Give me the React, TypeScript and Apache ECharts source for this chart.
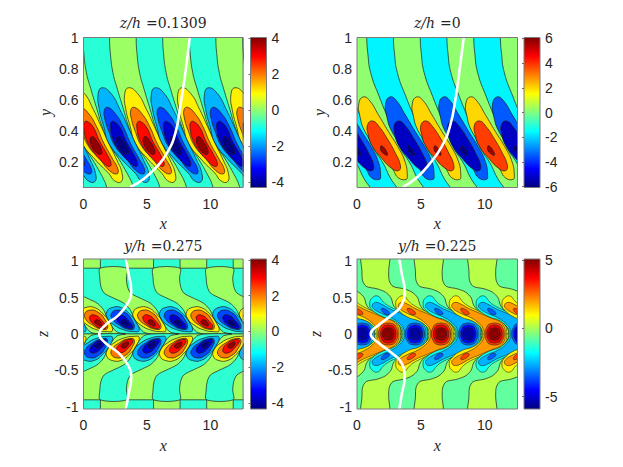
import React, { useEffect, useRef } from "react";
import * as echarts from "echarts";

type Pt = [number, number];
type Layer = { pts: Pt[]; value: number; smooth?: number; thin?: boolean };

// colour limits of each panel
const climA = [-4.3, 4.05];
const climB = [-6.08, 6.08];
const climC = [-4.35, 4.05];
const climD = [-5.9, 5.07];

const xTicks = [0, 5, 10];
const yTicks = [0.2, 0.4, 0.6, 0.8, 1];
const zTicks = [-1, -0.5, 0, 0.5, 1];
const barTicksA = [-4, -2, 0, 2, 4];
const barTicksB = [-6, -4, -2, 0, 2, 4, 6];
const barTicksD = [-5, 0, 5];

const titles = [["z/h", "=0.1309"], ["z/h", "=0"], ["y/h", "=0.275"], ["y/h", "=0.225"]];

// ---- panel A (z/h = 0.1309)
const aLevels = { green: 0.11, cyan: -0.83, pos: [1.05, 2, 2.94, 3.88], neg: [-1.78, -2.72, -3.67, -4.4] };
const aBoundary: Pt[] = [[2.03, 1.2], [2.05, 1], [2.11, 0.903], [2.32, 0.773], [2.68, 0.665], [3.16, 0.535], [3.55, 0.427], [4.08, 0.319], [4.92, 0.211], [5.53, 0.124], [5.87, 0.07], [6.05, 0.031], [6.5, -0.03]];
const aStripeOffsets = [-6.28, -2.09, 2.1, 6.29, 10.48];
const aRedCentres = [0.94, 5.13, 9.32, 13.51];
const aBlueCentres = [-1.15, 3.04, 7.23, 11.42];
const aLobe: Pt[][] = [
  [[-1.58, 0.676], [-0.87, 0.639], [-0.16, 0.535], [0.45, 0.427], [1.05, 0.319], [1.68, 0.211], [2.1, 0.124], [2.03, 0.07], [1.5, 0.077], [1.05, 0.124], [0, 0.211], [-1.05, 0.319], [-1.45, 0.427], [-1.79, 0.535], [-1.89, 0.632]],
  [[-1.13, 0.55], [-0.53, 0.509], [0.08, 0.427], [0.66, 0.319], [1.32, 0.222], [1.79, 0.146], [1.66, 0.12], [1.05, 0.146], [0.39, 0.211], [-0.53, 0.297], [-1.05, 0.395], [-1.37, 0.481], [-1.39, 0.535]],
  [[-0.66, 0.459], [-0.18, 0.423], [0.34, 0.33], [0.87, 0.254], [1.24, 0.185], [1.05, 0.168], [0.53, 0.2], [-0.18, 0.265], [-0.71, 0.341], [-0.92, 0.416], [-0.87, 0.453]],
  [[-0.26, 0.362], [0.13, 0.33], [0.47, 0.276], [0.45, 0.248], [0.13, 0.254], [-0.26, 0.293], [-0.42, 0.341]],
];
const aCurve: Pt[] = [[3.68, 0.035], [4.74, 0.088], [5.79, 0.168], [6.58, 0.254], [7.24, 0.384], [7.63, 0.557], [8.03, 0.773], [8.37, 1]];

// ---- panel B (z/h = 0)
const bLevels = { green: 0.18, cyan: -1.64, pos: [2, 3.83, 5.65], neg: [-3.47, -5.29, -6.08] };
const bBoundary: Pt[] = [[0.74, 1.2], [0.76, 1], [0.84, 0.903], [1.07, 0.773], [1.75, 0.617], [2.53, 0.459], [3.32, 0.297], [4.15, 0.189], [4.73, 0.092], [5.25, 0.031], [5.9, -0.04]];
const bStripeOffsets = [-4.19, 0, 4.19, 8.38];
const bRedCentres = [-2, 2.19, 6.38, 10.57, 14.76];
const bBlueCentres = [0.1, 4.29, 8.48, 12.67];
const bLobe: Pt[][] = [
  [[-1.7, 0.617], [-1.23, 0.596], [-0.52, 0.503], [0.26, 0.395], [1.0, 0.297], [1.57, 0.2], [1.75, 0.114], [1.65, 0.085], [1.04, 0.096], [0.65, 0.146], [-0.13, 0.243], [-0.91, 0.32], [-1.57, 0.395], [-1.96, 0.492], [-2.04, 0.578]],
  [[-0.97, 0.462], [-0.47, 0.427], [0.23, 0.341], [0.75, 0.265], [1.2, 0.178], [1.08, 0.142], [0.52, 0.157], [-0.26, 0.222], [-0.97, 0.297], [-1.31, 0.373], [-1.36, 0.438]],
  [[-0.26, 0.302], [0.13, 0.265], [0.18, 0.241], [-0.08, 0.25], [-0.34, 0.276]],
];
const bCurve: Pt[] = [[3.58, 0.035], [4.67, 0.096], [5.72, 0.189], [6.63, 0.297], [7.28, 0.427], [7.75, 0.622], [8.07, 0.816], [8.36, 1]];

// ---- panel C (y/h = 0.275)
const cLevels = { green: 0.11, cyan: -0.83, pos: [1.05, 2, 2.94, 3.88], neg: [-1.78, -2.72, -3.67, -4.4] };
const cBoundary: Pt[] = [[1.32, 0.904], [1.29, 0.767], [1.37, 0.653], [1.63, 0.562], [2.37, 0.493], [3.16, 0.425], [3.68, 0.333], [3.95, 0.228], [4.34, 0.105], [4.74, 0.027], [5.39, 0]];
const cFlowOffsets = [-4.19, 0, 4.19, 8.38];
const cTileStarts = [-0.77, 3.42, 7.61, 11.8];
const cRedCentres = [1.05, 5.25, 9.45, 13.65];
const cBlueCentres = [-1.05, 3.15, 7.35, 11.55];
const cLobe: Pt[][] = [
  [[-1.32, 0.306], [-0.87, 0.365], [-0.16, 0.361], [0.45, 0.283], [0.97, 0.169], [1.24, 0.046], [0.84, 0.032], [0.05, 0.055], [-0.74, 0.123], [-1.26, 0.215]],
  [[-0.95, 0.283], [-0.47, 0.329], [0.11, 0.297], [0.58, 0.215], [0.84, 0.078], [0.32, 0.068], [-0.34, 0.123], [-0.87, 0.201]],
  [[-0.53, 0.247], [-0.16, 0.26], [0.37, 0.192], [0.74, 0.087], [0.26, 0.082], [-0.26, 0.137], [-0.53, 0.192]],
  [[-0.16, 0.183], [0.11, 0.192], [0.37, 0.146], [0.37, 0.11], [0.05, 0.128], [-0.16, 0.155]],
];
const cCurve: Pt[] = [[3.34, 1.03], [3.55, 0.83], [3.76, 0.6], [3.55, 0.44], [2.76, 0.26], [1.71, 0.12], [1.24, 0], [1.71, -0.12], [2.76, -0.26], [3.55, -0.44], [3.76, -0.6], [3.55, -0.83], [3.34, -1.03]];

// ---- panel D (y/h = 0.225)
const dLevels = { base: -0.74, flow: 0.19, pos: [1.12, 2.05, 2.99, 3.92, 4.85], neg: [-1.68, -2.61, -3.54, -4.47, -5.41] };
const dBoundary: Pt[] = [[0.39, 1.15], [0.39, 0.854], [0.44, 0.731], [0.73, 0.653], [1.57, 0.621], [2.22, 0.575], [2.66, 0.498], [2.85, 0.397], [3.24, 0.315], [4.1, 0.224], [4.83, 0.183], [5.33, 0.123], [5.56, 0.055], [5.56, 0]];
const dFlowOffsets = [-4.19, 0, 4.19, 8.38];
const dRedCentres = [2.45, 6.58, 10.77, 14.9];
const dBlueCentres = [-3.75, 0.41, 4.54, 8.72, 12.87, 17];
const dChevronOuter: Pt[] = [[-0.95, 0], [-0.97, 0.055], [-1.25, 0.123], [-1.78, 0.183], [-2.56, 0.228], [-3.34, 0.329], [-3.55, 0.411], [-3.34, 0.498], [-2.9, 0.521], [-2.56, 0.457], [-2.17, 0.397], [-1.25, 0.315], [-0.34, 0.228], [0.31, 0.192], [0.8, 0.123], [0.95, 0.055], [0.95, 0]];
const dChevronInner: Pt[] = [[-0.84, 0], [-0.86, 0.06], [-1.17, 0.137], [-1.85, 0.224], [-2.64, 0.283], [-3.26, 0.352], [-3.34, 0.402], [-3.08, 0.434], [-2.64, 0.411], [-2.04, 0.352], [-1.12, 0.283], [-0.21, 0.215], [0.44, 0.169], [0.72, 0.11], [0.84, 0.05], [0.84, 0]];
const dSpot: Pt[] = [[-2.64, 0.347], [-2.3, 0.338], [-1.98, 0.283], [-2.17, 0.265], [-2.48, 0.292]];
const dRings: Pt[][] = [
  [[-0.75, 0], [-0.62, 0.09], [-0.35, 0.14], [0.35, 0.14], [0.62, 0.09], [0.75, 0]],
  [[-0.6, 0], [-0.5, 0.075], [-0.28, 0.115], [0.28, 0.115], [0.5, 0.075], [0.6, 0]],
  [[-0.44, 0], [-0.36, 0.06], [-0.18, 0.08], [0.18, 0.08], [0.36, 0.06], [0.44, 0]],
  [[-0.24, 0], [-0.15, 0.035], [0, 0.048], [0.15, 0.035], [0.24, 0]],
];
const dCurve: Pt[] = [[3.32, 1.03], [3.5, 0.83], [3.73, 0.6], [3.5, 0.4], [2.72, 0.26], [1.67, 0.12], [1.07, 0], [1.67, -0.12], [2.72, -0.26], [3.5, -0.4], [3.73, -0.6], [3.5, -0.83], [3.32, -1.03]];

const xMax = 12.57;
const yMin = 0.033;
const zLim = 1.03;

const jetStops: [number, string][] = [[0, "#00007f"], [0.125, "#0000ff"], [0.375, "#00ffff"], [0.625, "#ffff00"], [0.875, "#ff0000"], [1, "#7f0000"]];

function jet(t0: number) {
  const t = Math.max(0, Math.min(1, t0));
  const c = (v: number) => Math.round(255 * Math.max(0, Math.min(1, v)));
  const r = t < 0.375 ? 0 : t < 0.625 ? (t - 0.375) * 4 : t < 0.875 ? 1 : 1 - (t - 0.875) * 2 * 2;
  const g = t < 0.125 ? 0 : t < 0.375 ? (t - 0.125) * 4 : t < 0.625 ? 1 : t < 0.875 ? 1 - (t - 0.625) * 4 : 0;
  const b = t < 0.125 ? 0.5 + t * 4 : t < 0.375 ? 1 : t < 0.625 ? 1 - (t - 0.375) * 4 : 0;
  return `rgb(${c(r)},${c(g)},${c(b)})`;
}

const shift = (p: Pt[], dx: number): Pt[] => p.map(([x, y]) => [x + dx, y] as Pt);
const mirror = (p: Pt[]): Pt[] => p.map(([x, y]) => [x, -y] as Pt);
const band = (b: Pt[], off: number, w: number): Pt[] => [...shift(b, off), ...shift(b, off + w).reverse()];
const wide: Pt[] = [[-2, -3], [16, -3], [16, 3], [-2, 3]];
const chevron = (u: Pt[]): Pt[] => [...u, ...mirror(u).reverse().slice(1, -1)];

function layersA(): Layer[] {
  const out: Layer[] = [{ pts: wide, value: aLevels.green, smooth: 0 }];
  aStripeOffsets.forEach((o) => out.push({ pts: band(aBoundary, o, 2.09), value: aLevels.cyan }));
  aRedCentres.forEach((c) => aLobe.forEach((l, i) => out.push({ pts: shift(l, c), value: aLevels.pos[i] })));
  aBlueCentres.forEach((c) => aLobe.forEach((l, i) => out.push({ pts: shift(l, c), value: aLevels.neg[i] })));
  return out;
}
function layersB(): Layer[] {
  const out: Layer[] = [{ pts: wide, value: bLevels.green, smooth: 0 }];
  bStripeOffsets.forEach((o) => out.push({ pts: band(bBoundary, o, 2.09), value: bLevels.cyan }));
  bRedCentres.forEach((c) => bLobe.forEach((l, i) => out.push({ pts: shift(l, c), value: bLevels.pos[i] })));
  bBlueCentres.forEach((c) => bLobe.forEach((l, i) => out.push({ pts: shift(l, c), value: bLevels.neg[i] })));
  return out;
}
function layersC(): Layer[] {
  const out: Layer[] = [{ pts: [[-2, 0], [16, 0], [16, 3], [-2, 3]], value: cLevels.cyan, smooth: 0 }];
  const tile = (s: number): Pt[] => [[s, 1.3], [s + 2.1, 1.3], [s + 2.1, 0.904], [s, 0.904]];
  cFlowOffsets.forEach((o) => out.push({ pts: band(cBoundary, o, 2.09), value: cLevels.green, smooth: 0.3 }));
  cTileStarts.forEach((s) => out.push({ pts: tile(s), value: cLevels.green, smooth: 0 }));
  out.push({ pts: [[-2, 0], [16, 0], [16, -3], [-2, -3]], value: cLevels.green, smooth: 0, thin: true });
  cFlowOffsets.forEach((o) => out.push({ pts: mirror(band(cBoundary, o, 2.09)), value: cLevels.cyan, smooth: 0.3 }));
  cTileStarts.forEach((s) => out.push({ pts: mirror(tile(s)), value: cLevels.cyan, smooth: 0 }));
  cRedCentres.forEach((c) => cLobe.forEach((l, i) => {
    out.push({ pts: shift(l, c), value: cLevels.pos[i] });
    out.push({ pts: mirror(shift(l, c)), value: cLevels.neg[i] });
  }));
  cBlueCentres.forEach((c) => cLobe.forEach((l, i) => {
    out.push({ pts: shift(l, c), value: cLevels.neg[i] });
    out.push({ pts: mirror(shift(l, c)), value: cLevels.pos[i] });
  }));
  return out;
}
function layersD(): Layer[] {
  const out: Layer[] = [{ pts: wide, value: dLevels.base, smooth: 0 }];
  dFlowOffsets.forEach((o) => {
    const b = band(dBoundary, o, 2.09);
    out.push({ pts: b, value: dLevels.flow, smooth: 0.3 });
    out.push({ pts: mirror(b), value: dLevels.flow, smooth: 0.3 });
  });
  const family = (c: number, lv: number[]) => {
    out.push({ pts: shift(chevron(dChevronOuter), c), value: lv[0], thin: true });
    out.push({ pts: shift(chevron(dChevronInner), c), value: lv[1], thin: true });
    out.push({ pts: shift(dSpot, c), value: lv[2], thin: true });
    out.push({ pts: mirror(shift(dSpot, c)), value: lv[2], thin: true });
    out.push({ pts: shift(chevron(dRings[0]), c), value: lv[2], thin: true });
    out.push({ pts: shift(chevron(dRings[1]), c), value: lv[3], thin: true });
    out.push({ pts: shift(chevron(dRings[2]), c), value: lv[4], thin: true });
    out.push({ pts: shift(chevron(dRings[3]), c), value: lv[4], thin: true });
  };
  dBlueCentres.forEach((c) => family(c, dLevels.neg));
  dRedCentres.forEach((c) => family(c, dLevels.pos));
  return out;
}

const labelFont = "'Liberation Sans', Arial, sans-serif";
const mathFont = "'Liberation Serif', serif";
const titleFont = "'DejaVu Serif', serif";
const ink = "#262626";
const box = "#7a7a7a";

const panels = [
  { left: 83.5, top: 37.5, width: 159.5, clim: climA, layers: layersA, curve: aCurve, yMin, yMax: 1, yTicks, yName: "y", yGap: 30, barTicks: barTicksA, barLeft: 250.5, title: titles[0], titleTop: 14 },
  { left: 357, top: 37.5, width: 160.5, clim: climB, layers: layersB, curve: bCurve, yMin, yMax: 1, yTicks, yName: "y", yGap: 30, barTicks: barTicksB, barLeft: 524, title: titles[1], titleTop: 14 },
  { left: 83.5, top: 259, width: 159.5, clim: climC, layers: layersC, curve: cCurve, yMin: -zLim, yMax: zLim, yTicks: zTicks, yName: "z", yGap: 27, barTicks: barTicksA, barLeft: 250.5, title: titles[2], titleTop: 237 },
  { left: 357, top: 259, width: 160.5, clim: climD, layers: layersD, curve: dCurve, yMin: -zLim, yMax: zLim, yTicks: zTicks, yName: "z", yGap: 27, barTicks: barTicksD, barLeft: 524, title: titles[3], titleTop: 237 },
];

function buildOption() {
  const grid: any[] = [];
  const xAxis: any[] = [];
  const yAxis: any[] = [];
  const series: any[] = [];
  const title: any[] = [];
  const height = 150;
  const barWidth = 16;

  const tickStyle = (vals: number[]) => ({
    show: true, inside: true, length: 2, customValues: vals, lineStyle: { color: ink, width: 0.7 },
  });
  const labelStyle = (vals: number[], margin: number) => ({
    show: true, customValues: vals, color: ink, fontSize: 14, fontFamily: labelFont, margin, formatter: (v: number) => String(v),
  });
  const nameStyle = { fontFamily: mathFont, fontStyle: "italic", fontSize: 16, color: ink };

  panels.forEach((p, k) => {
    const g = k * 2;
    grid.push({ left: p.left, top: p.top, width: p.width, height, show: true, z: 5, backgroundColor: "transparent", borderColor: box, borderWidth: 1 });
    xAxis.push({
      type: "value", gridIndex: g, min: 0, max: xMax, name: "x", nameLocation: "middle", nameGap: 28, nameTextStyle: nameStyle,
      axisLine: { show: false }, axisTick: tickStyle(xTicks), axisLabel: labelStyle(xTicks, 9), splitLine: { show: false },
    });
    yAxis.push({
      type: "value", gridIndex: g, min: p.yMin, max: p.yMax, name: p.yName, nameLocation: "middle", nameGap: p.yGap, nameRotate: 90, nameTextStyle: nameStyle,
      axisLine: { show: false }, axisTick: tickStyle(p.yTicks), axisLabel: labelStyle(p.yTicks, 5), splitLine: { show: false },
    });
    const layers = p.layers();
    const [lo, hi] = p.clim;
    series.push({
      type: "custom", xAxisIndex: g, yAxisIndex: g, clip: true, silent: true, z: 2,
      data: layers.map((_, i) => [i, 0]),
      renderItem: (params: any, api: any) => {
        const l = layers[params.dataIndex];
        return {
          type: "polygon",
          shape: { points: l.pts.map((q) => api.coord(q)), smooth: l.smooth ?? 0.5 },
          style: { fill: jet((l.value - lo) / (hi - lo)), stroke: "#1c1c1c", lineWidth: l.thin ? 0.55 : 0.7 },
        };
      },
    });
    series.push({
      type: "line", xAxisIndex: g, yAxisIndex: g, data: p.curve, smooth: 0.5, symbol: "none", clip: true, silent: true, z: 3,
      lineStyle: { color: "#ffffff", width: 2.6 },
    });

    grid.push({ left: p.barLeft, top: p.top, width: barWidth, height, show: true, z: 5, backgroundColor: "transparent", borderColor: box, borderWidth: 1 });
    xAxis.push({ type: "value", gridIndex: g + 1, min: 0, max: 1, show: false });
    yAxis.push({
      type: "value", gridIndex: g + 1, min: lo, max: hi, position: "right",
      axisLine: { show: false }, axisTick: tickStyle(p.barTicks), axisLabel: labelStyle(p.barTicks, 5), splitLine: { show: false },
    });
    series.push({
      type: "custom", xAxisIndex: g + 1, yAxisIndex: g + 1, silent: true, z: 2,
      data: [[0, lo]],
      renderItem: (_: any, api: any) => {
        const a = api.coord([0, hi]);
        const b = api.coord([1, lo]);
        return {
          type: "rect",
          shape: { x: a[0], y: a[1], width: b[0] - a[0], height: b[1] - a[1] },
          style: { fill: new echarts.graphic.LinearGradient(0, 1, 0, 0, jetStops.map(([offset, color]) => ({ offset, color }))) },
        };
      },
    });

    title.push({
      text: `{i|${p.title[0]}} {n|${p.title[1]}}`,
      left: p.left + p.width / 2,
      top: p.titleTop,
      textAlign: "center",
      padding: 0,
      textStyle: {
        fontWeight: "normal",
        rich: {
          i: { fontFamily: titleFont, fontStyle: "italic", fontWeight: "normal", fontSize: 14, color: ink },
          n: { fontFamily: titleFont, fontWeight: "normal", fontSize: 14, color: ink },
        },
      },
    });
  });

  return { animation: false, backgroundColor: "#ffffff", title, grid, xAxis, yAxis, series };
}

export default function App() {
  const ref = useRef<HTMLDivElement>(null);
  useEffect(() => {
    const chart = echarts.init(ref.current!, undefined, { renderer: "svg" });
    chart.setOption(buildOption() as any);
    return () => chart.dispose();
  }, []);
  return <div ref={ref} style={{ position: "fixed", left: 0, top: 0, width: 623, height: 467 }} />;
}
